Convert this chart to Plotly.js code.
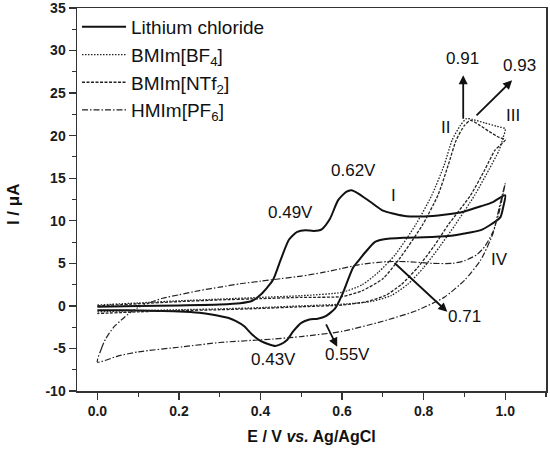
<!DOCTYPE html>
<html>
<head>
<meta charset="utf-8">
<script src="https://cdn.plot.ly/plotly-3.0.1.min.js"></script>
<style>html,body{margin:0;padding:0;background:#fff;}#chart{width:550px;height:451px;}</style>
</head>
<body>
<div id="chart"></div>
<script>
// ---- Data (E in V vs Ag/AgCl, I in µA) ----
const seriesNames = ["Lithium chloride", "BMIm[BF<sub>4</sub>]", "BMIm[NTf<sub>2</sub>]", "HMIm[PF<sub>6</sub>]"];

// Lithium chloride: forward then reverse scan
const liclE = [0.0,0.1,0.2,0.3,0.35,0.38,0.40,0.43,0.45,0.47,0.49,0.51,0.53,0.55,0.57,0.59,0.61,0.623,0.64,0.67,0.70,0.75,0.80,0.85,0.90,0.94,0.97,1.0,
               0.995,0.988,0.963,0.94,0.90,0.86,0.80,0.75,0.70,0.68,0.657,0.64,0.627,0.61,0.60,0.583,0.56,0.54,0.52,0.50,0.48,0.465,0.45,0.436,0.42,0.40,0.38,0.36,0.34,0.32,0.28,0.25,0.20,0.15,0.10,0.05,0.0];
const liclI = [-0.1,0.0,0.05,0.15,0.3,0.6,1.3,3.0,5.5,7.8,8.7,8.9,8.8,9.0,10.2,12.4,13.4,13.6,13.2,12.2,11.2,10.6,10.5,10.7,11.1,11.7,12.2,13.0,
               11.6,10.4,9.5,8.9,8.5,8.2,8.05,8.0,7.8,7.5,6.3,5.3,4.5,2.5,1.3,-0.3,-1.2,-1.5,-1.6,-2.0,-3.0,-4.0,-4.5,-4.7,-4.5,-4.1,-3.4,-2.4,-1.8,-1.4,-1.0,-0.8,-0.65,-0.6,-0.55,-0.5,-0.5];

// BMIm[BF4]
const bf4E = [0.0,0.1,0.2,0.3,0.4,0.5,0.6,0.65,0.69,0.73,0.78,0.82,0.85,0.87,0.89,0.905,0.92,0.95,0.98,1.0,
              0.995,0.985,0.96,0.925,0.877,0.84,0.80,0.76,0.72,0.67,0.6,0.5,0.4,0.3,0.2,0.1,0.0];
const bf4I = [0.1,0.35,0.6,0.8,1.0,1.2,1.6,2.5,4.0,6.0,9.5,13.0,16.5,19.5,21.2,22.0,21.9,21.5,21.1,20.8,
              19.8,18.3,16.0,13.0,9.5,7.0,4.5,2.5,1.2,0.5,0.2,0.0,-0.2,-0.35,-0.45,-0.55,-0.7];

// BMIm[NTf2]
const ntf2E = [0.0,0.1,0.2,0.3,0.4,0.5,0.6,0.65,0.70,0.74,0.797,0.835,0.86,0.88,0.90,0.915,0.935,0.96,0.985,1.0,
               0.975,0.95,0.915,0.86,0.825,0.785,0.745,0.705,0.66,0.6,0.5,0.4,0.3,0.2,0.1,0.0];
const ntf2I = [0.0,0.25,0.5,0.7,0.85,1.0,1.1,1.8,3.2,5.5,9.5,13.0,16.5,19.5,21.2,21.8,21.3,20.5,19.8,19.5,
               18.3,16.0,13.0,9.5,7.0,4.5,2.5,1.2,0.5,0.1,-0.1,-0.3,-0.45,-0.55,-0.7,-0.9];

// HMIm[PF6]
const pf6E = [0.0,0.01,0.02,0.04,0.06,0.08,0.10,0.13,0.16,0.20,0.25,0.30,0.35,0.40,0.45,0.50,0.55,0.60,0.65,0.71,0.76,0.82,0.87,0.90,0.93,0.95,0.97,0.985,1.0,
              0.985,0.97,0.94,0.90,0.85,0.78,0.70,0.60,0.50,0.43,0.30,0.21,0.10,0.05,0.0];
const pf6I = [-6.6,-5.0,-3.9,-2.5,-1.6,-0.8,-0.2,0.4,0.9,1.3,1.8,2.2,2.6,2.9,3.2,3.5,3.9,4.4,4.9,5.2,5.2,5.0,5.0,5.3,6.0,7.0,8.7,11.0,14.4,
              11.5,8.5,5.4,3.0,1.0,-0.6,-1.8,-3.0,-3.6,-3.9,-4.3,-4.8,-5.4,-5.9,-6.6];

const xTickVals = [0.0,0.2,0.4,0.6,0.8,1.0];
const xTickText = ["0.0","0.2","0.4","0.6","0.8","1.0"];
const yTickVals = [-10,-5,0,5,10,15,20,25,30,35];
const yTickText = ["-10","-5","0","5","10","15","20","25","30","35"];

const FONT = "Liberation Sans, Arial, sans-serif";
const INK = "#111";

const traces = [
  {x: liclE, y: liclI, name: seriesNames[0], mode: "lines", line: {color: INK, width: 2, shape: "spline", smoothing: 0.6}},
  {x: bf4E, y: bf4I, name: seriesNames[1], mode: "lines", line: {color: "#222", width: 1.3, dash: "1.5px,1.5px", shape: "spline", smoothing: 0.6}},
  {x: ntf2E, y: ntf2I, name: seriesNames[2], mode: "lines", line: {color: "#222", width: 1.3, dash: "3px,1.5px", shape: "spline", smoothing: 0.6}},
  {x: pf6E, y: pf6I, name: seriesNames[3], mode: "lines", line: {color: "#222", width: 1.2, dash: "6px,2px,1.5px,2px", shape: "spline", smoothing: 0.6}}
];

const annFont = {family: FONT, size: 17, color: INK};
function label(text, x, y) {
  return {text: text, x: x, y: y, xref: "x", yref: "y", showarrow: false, font: annFont, xanchor: "center", yanchor: "middle"};
}
function arrow(x0, y0, x1, y1) {
  return {text: "", x: x1, y: y1, ax: x0, ay: y0, xref: "x", yref: "y", axref: "x", ayref: "y",
          showarrow: true, arrowhead: 2, arrowsize: 1, arrowwidth: 1.8, arrowcolor: INK};
}

const annotations = [
  label("0.62V", 0.627, 15.9),
  label("0.49V", 0.473, 11.0),
  label("I", 0.725, 13.0),
  label("II", 0.853, 21.0),
  label("III", 1.02, 22.4),
  label("IV", 0.985, 5.5),
  label("0.91", 0.896, 29.1),
  label("0.93", 1.035, 28.3),
  label("0.71", 0.90, -1.2),
  label("0.55V", 0.613, -5.7),
  label("0.43V", 0.431, -6.3),
  arrow(0.897, 21.8, 0.897, 27.1),
  arrow(0.926, 22.2, 1.017, 26.5),
  arrow(0.725, 5.2, 0.858, -0.7),
  arrow(0.559, -2.0, 0.588, -4.8),
  {text: "<b>I / μA</b>", xref: "paper", yref: "paper", x: -0.1365, y: 0.488, textangle: -90,
   showarrow: false, xanchor: "center", yanchor: "middle", font: {family: FONT, size: 17, color: INK}}
];

const bold = s => "<b>" + s + "</b>";

const axisCommon = {
  showline: true, mirror: true, linecolor: "#333", linewidth: 1.5,
  ticks: "outside", ticklen: 7, tickwidth: 1.3, tickcolor: "#333",
  showgrid: false, zeroline: false, ticklabeloverflow: "allow",
  tickfont: {family: FONT, size: 14, color: "#1a1a1a"}
};

const layout = {
  width: 550, height: 451,
  margin: {l: 77, r: 4, t: 8, b: 60},
  paper_bgcolor: "#fff", plot_bgcolor: "#fff",
  showlegend: true,
  legend: {x: 0.0, y: 1.0, xanchor: "left", yanchor: "top", bgcolor: "rgba(0,0,0,0)",
           font: {family: FONT, size: 19, color: INK}, itemwidth: 44, tracegroupgap: 0},
  xaxis: Object.assign({}, axisCommon, {
    range: [-0.05, 1.1], tickvals: xTickVals, ticktext: xTickText.map(bold),
    minor: {dtick: 0.1, tick0: 0, ticks: "outside", ticklen: 4, tickcolor: "#333", tickwidth: 1.1},
    title: {text: "<b>E / V <i>vs.</i> Ag/AgCl</b>", font: {family: FONT, size: 16, color: INK}, standoff: 12}
  }),
  yaxis: Object.assign({}, axisCommon, {
    range: [-10, 35], tickvals: yTickVals, ticktext: yTickText.map(bold),
    minor: {dtick: 2.5, tick0: 0, ticks: "outside", ticklen: 4, tickcolor: "#333", tickwidth: 1.1}
  }),
  annotations: annotations
};

Plotly.newPlot("chart", traces, layout, {staticPlot: true, displayModeBar: false});
</script>
</body>
</html>
